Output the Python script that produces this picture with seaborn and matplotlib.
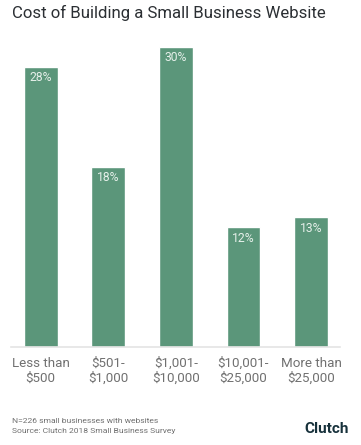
import matplotlib.pyplot as plt
import pandas as pd
import seaborn as sns

# data
categories = ["Less than\n$500", "$501-\n$1,000", "$1,001-\n$10,000", "$10,001-\n$25,000", "More than\n$25,000"]
shares = [28, 18, 30, 12, 13]
value_labels = ["28%", "18%", "30%", "12%", "13%"]

BAR_COLOR = "#5b967a"
TEXT_DARK = "#2b2f33"
TEXT_GRAY = "#707070"

sns.set_theme(style="white")
plt.rcParams["font.family"] = ["Roboto", "DejaVu Sans"]

df = pd.DataFrame({"category": categories, "share": shares})

fig = plt.figure(figsize=(3.61, 4.45), dpi=100)
ax = fig.add_axes([0.0305, 0.2202, 0.9115, 0.6742])

sns.barplot(data=df, x="category", y="share", color=BAR_COLOR, saturation=1,
            width=0.5, ax=ax)

for i, (v, lab) in enumerate(zip(shares, value_labels)):
    ax.text(i, v - 0.45, lab, ha="center", va="top", fontsize=8.7,
            color="#e6f0ea")

ax.set_xlim(-0.44, 4.43)
ax.set_ylim(0, 30)
ax.set_xlabel("")
ax.set_ylabel("")
ax.set_yticks([])
ax.tick_params(axis="x", length=0, pad=7, labelsize=9.6, labelcolor=TEXT_GRAY)
for s in ["top", "right", "left"]:
    ax.spines[s].set_visible(False)
ax.spines["bottom"].set_color("#e4e4e4")
ax.spines["bottom"].set_linewidth(1.2)

fig.text(0.033, 0.970, "Cost of Building a Small Business Website",
         ha="left", va="center", fontsize=12.1, color=TEXT_DARK)
fig.text(0.033, 0.054, "N=226 small businesses with websites",
         ha="left", va="center", fontsize=6.1, color=TEXT_GRAY)
fig.text(0.033, 0.032, "Source: Clutch 2018 Small Business Survey",
         ha="left", va="center", fontsize=6.1, color=TEXT_GRAY)
fig.text(0.966, 0.035, "Clutch", ha="right", va="center", fontsize=11,
         fontweight="bold", color="#17313b")

fig.savefig("out.png", dpi=100)
